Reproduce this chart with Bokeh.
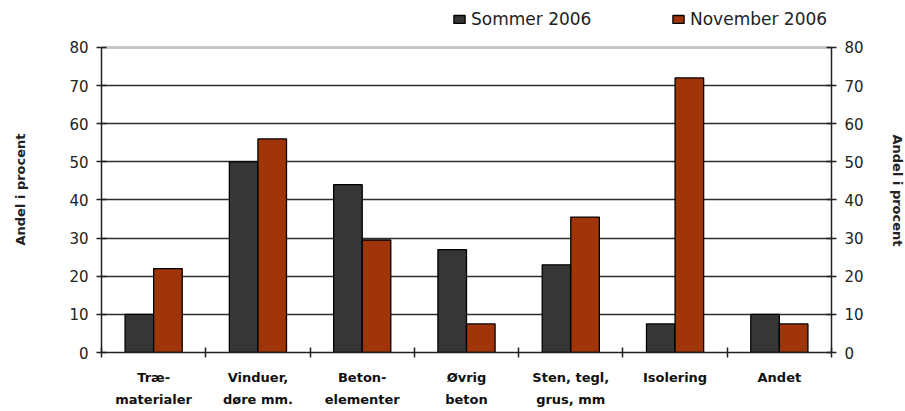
from bokeh.plotting import figure
from bokeh.models import (LinearAxis, FixedTicker, Range1d, Legend, LegendItem,
                          ColumnDataSource, Span, Title)
from bokeh.transform import dodge
from bokeh.embed import file_html
from bokeh.resources import INLINE

categories = ["Træ-\nmaterialer", "Vinduer,\ndøre mm.", "Beton-\nelementer", "Øvrig\nbeton",
              "Sten, tegl,\ngrus, mm", "Isolering", "Andet"]
sommer = [10, 50, 44, 27, 23, 7.5, 10]
november = [22, 56, 29.5, 7.5, 35.5, 72, 7.5]
series_names = ["Sommer 2006", "November 2006"]
y_ticks = [0, 10, 20, 30, 40, 50, 60, 70, 80]
y_label = "Andel i procent"

SOM_COLOR = "#363636"
NOV_COLOR = "#A1350A"
FONT = "DejaVu Sans"

pos = [i + 0.5 for i in range(len(categories))]
src = ColumnDataSource(dict(x=pos, sommer=sommer, november=november))

# frame extends above 80 so the legend (drawn inside the frame) is not clipped
p = figure(width=905, height=411, output_backend="svg", toolbar_location=None,
           x_range=Range1d(0, len(categories)), y_range=Range1d(0, 92.3),
           min_border_left=101, min_border_right=73, min_border_top=0, min_border_bottom=59)
p.outline_line_color = None
p.background_fill_color = "white"
p.border_fill_color = "white"

r1 = p.vbar(x=dodge("x", -0.137, range=p.x_range), top="sommer", width=0.274, source=src,
            fill_color=SOM_COLOR, line_color="black", line_width=1.3)
r2 = p.vbar(x=dodge("x", 0.137, range=p.x_range), top="november", width=0.274, source=src,
            fill_color=NOV_COLOR, line_color="black", line_width=1.3)

# grid
p.xgrid.visible = False
p.ygrid.ticker = FixedTicker(ticks=y_ticks[1:-1])
p.ygrid.grid_line_color = "#2e2e2e"
p.ygrid.grid_line_width = 1.5
p.ygrid.level = "underlay"
p.add_layout(Span(location=y_ticks[-1], dimension="width", line_color="#c8c8c8", line_width=3,
                  level="underlay"))

# x axis
xa = p.xaxis[0]
xa.ticker = FixedTicker(ticks=pos, minor_ticks=list(range(len(categories) + 1)))
xa.major_label_overrides = {pos[i]: categories[i] for i in range(len(categories))}
xa.major_tick_in = 0
xa.major_tick_out = 0
xa.minor_tick_in = 5
xa.minor_tick_out = 5
xa.minor_tick_line_color = "#222222"
xa.minor_tick_line_width = 1.5
xa.axis_line_color = "#222222"
xa.axis_line_width = 1.5
xa.major_label_standoff = 12
xa.major_label_text_font = FONT
xa.major_label_text_font_style = "bold"
xa.major_label_text_font_size = "13px"
xa.major_label_text_color = "#111111"
xa.major_label_text_line_height = 1.5

def style_y(ax):
    ax.ticker = FixedTicker(ticks=y_ticks)
    ax.bounds = (y_ticks[0], y_ticks[-1])
    ax.axis_line_color = "#222222"
    ax.axis_line_width = 1.5
    ax.major_tick_in = 5
    ax.major_tick_out = 5
    ax.major_tick_line_color = "#222222"
    ax.major_tick_line_width = 1.5
    ax.minor_tick_line_color = None
    ax.major_label_standoff = 8
    ax.major_label_text_font = FONT
    ax.major_label_text_font_size = "15px"
    ax.major_label_text_color = "#222222"

style_y(p.yaxis[0])
yr = LinearAxis()
style_y(yr)
p.add_layout(yr, "right")

# axis titles as side-panel titles: a spacer (white dot on white) next to the axis, then the label
for side, sp_standoff, lab_standoff, off in [("left", 24, 21, 107), ("right", 19, 0, 134)]:
    spacer = Title(text=".", text_color="white", text_font_size="2px", standoff=sp_standoff,
                   vertical_align="middle")
    p.add_layout(spacer, side)
    t = Title(text=y_label, align="left", offset=off, standoff=lab_standoff,
              text_font=FONT, text_font_style="bold", text_font_size="13px",
              text_color="#222222", vertical_align="middle")
    p.add_layout(t, side)

# legend
lg = Legend(items=[LegendItem(label=series_names[0], renderers=[r1]),
                   LegendItem(label=series_names[1], renderers=[r2])],
            location=(351, 323), orientation="horizontal", border_line_color=None,
            background_fill_alpha=0, padding=0, margin=0, spacing=50,
            glyph_width=14, glyph_height=10, label_standoff=5, label_width=150,
            label_text_font=FONT, label_text_font_size="17px", label_text_color="#222222")
p.add_layout(lg, "center")

open("out.html", "w").write(file_html(p, INLINE))
